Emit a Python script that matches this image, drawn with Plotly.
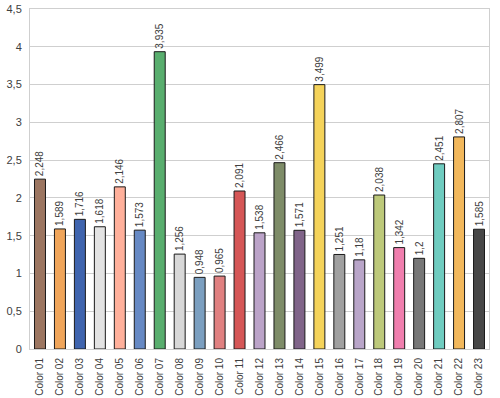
import plotly.graph_objects as go

categories = [f"Color {i:02d}" for i in range(1, 24)]
values = [2.248, 1.589, 1.716, 1.618, 2.146, 1.573, 3.935, 1.256, 0.948, 0.965,
          2.091, 1.538, 2.466, 1.571, 3.499, 1.251, 1.18, 2.038, 1.342, 1.2,
          2.451, 2.807, 1.585]
colors = ["#9C7661", "#F0A55A", "#3F64AE", "#E3E3E3", "#FFB09B", "#6689C4",
          "#59AE6E", "#D8D8D8", "#7B9FC0", "#E08080", "#D55656", "#BBA3C8",
          "#7E8C68", "#806489", "#F5D35A", "#A0A0A0", "#B9A5C9", "#BDC97A",
          "#F07EAE", "#777777", "#6FCCC0", "#F2B85C", "#474747"]
y_ticks = [0, 0.5, 1, 1.5, 2, 2.5, 3, 3.5, 4, 4.5]
y_ticktext = ["0", "0,5", "1", "1,5", "2", "2,5", "3", "3,5", "4", "4,5"]
labels = [str(v).replace(".", ",") for v in values]

fig = go.Figure(go.Bar(
    x=categories, y=values,
    marker=dict(color=colors, line=dict(color="#1a1a1a", width=1)),
    text=labels, textposition="outside", textangle=-90,
    outsidetextfont=dict(size=10, color="#404040", family="Liberation Sans"),
    cliponaxis=False, hoverinfo="skip",
))
fig.update_layout(
    width=500, height=398,
    margin=dict(l=30, r=11, t=9, b=49),
    plot_bgcolor="white", paper_bgcolor="white",
    bargap=0.45,
    showlegend=False,
    uniformtext=dict(minsize=10, mode="show"),
    font=dict(family="Liberation Sans", size=11, color="#404040"),
)
fig.update_yaxes(range=[0, 4.5], tickvals=y_ticks, ticktext=y_ticktext,
                 showgrid=True, gridcolor="#CFCFCF", gridwidth=1,
                 showline=True, linecolor="#CFCFCF", mirror=True,
                 zeroline=False, ticks="outside", ticklen=5, tickcolor="white",
                 automargin=False, tickfont=dict(size=11))
fig.update_xaxes(tickangle=-90, showline=True, linecolor="#CFCFCF", mirror=True,
                 ticks="outside", ticklen=4, tickcolor="white",
                 automargin=False, tickfont=dict(size=10))
fig.write_html("out.html", config={"displayModeBar": False},
               post_script="document.body.style.margin='0';")
